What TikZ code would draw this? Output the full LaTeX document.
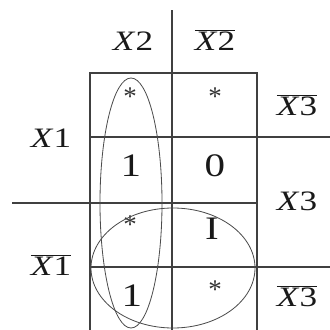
\documentclass[tikz,border=0pt]{standalone}
\usepackage{fontspec}
\setmainfont{Liberation Serif}
\usepackage{graphicx}
\usepackage{tikz}

\newcommand{\kw}[1]{\scalebox{1.25}[1]{#1}}
\newcommand{\kvar}[1]{\kw{\textit{X}#1}}
\newcommand{\kneg}[1]{$\overline{\mbox{\kw{\textit{X}#1}}}$}

\begin{document}
\begin{tikzpicture}[
  x=0.3mm, y=-0.3mm,
  grid/.style={draw=black!75, line width=0.9pt},
  loop/.style={draw=black!70, line width=0.7pt},
  lbl/.style={font=\fontsize{24}{28}\selectfont, anchor=base, inner sep=0pt, text=black!90},
  cell/.style={font=\fontsize{28}{32}\selectfont, inner sep=0pt, text=black!90},
  dc/.style={font=\fontsize{23}{27}\selectfont, inner sep=0pt, text=black!80},
]
  \useasboundingbox (0,0) rectangle (330,329);

  % map lines
  \draw[grid] (90,73) rectangle (257,340);
  \draw[grid] (172,10) -- (172,340);
  \draw[grid] (90,137) -- (330,137);
  \draw[grid] (12,203) -- (257,203);
  \draw[grid] (90,267) -- (330,267);

  % variable labels
  \node[lbl] (x2) at (133,50) {\kvar{2}};
  \node[lbl] (nx2) at (215,50) {\kneg{2}};
  \node[lbl] (x1) at (51,147) {\kvar{1}};
  \node[lbl] (nx1) at (51,275) {\kneg{1}};
  \node[lbl] (nx3a) at (297,115) {\kneg{3}};
  \node[lbl] (x3) at (297,210) {\kvar{3}};
  \node[lbl] (nx3b) at (297,306) {\kneg{3}};

  % cells
  \node[dc] (c11) at (130,97) {*};
  \node[dc] (c12) at (215,97) {*};
  \node[cell] (c21) at (131,166) {\kw{1}};
  \node[cell] (c22) at (215,166) {\kw{0}};
  \node[dc] (c31) at (130,225) {*};
  \node[cell] (c32) at (212,229) {\kw{I}};
  \node[cell] (c41) at (132,296) {\kw{1}};
  \node[dc] (c42) at (215,290) {*};

  % groups
  \draw[loop] (131,203) ellipse [x radius=31, y radius=125];
  \draw[loop] (173,268) ellipse [x radius=82, y radius=60];
\end{tikzpicture}
\end{document}
